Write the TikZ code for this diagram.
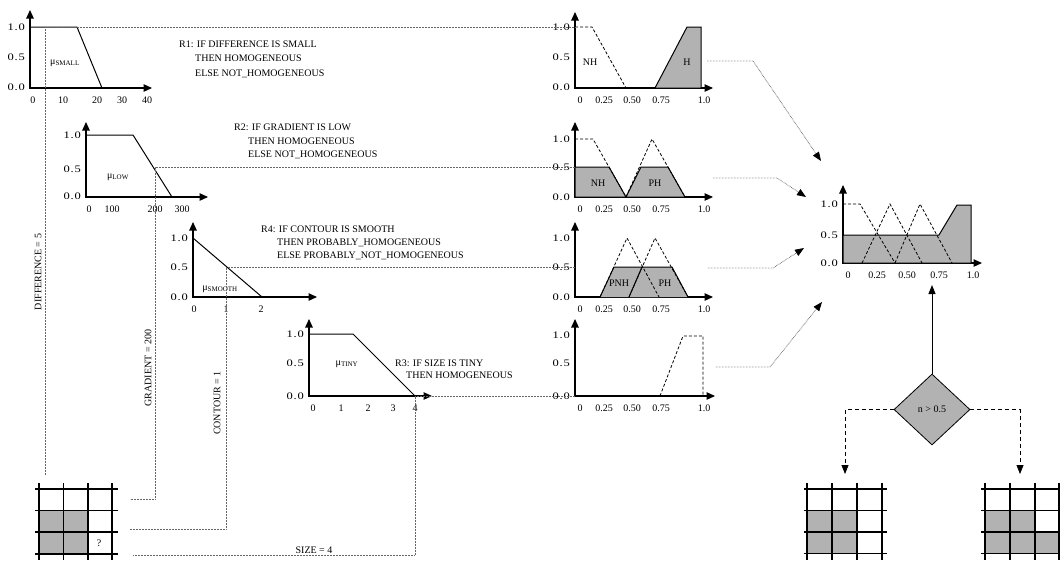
\documentclass[tikz,border=0pt]{standalone}
\usepackage{fontspec}
\setmainfont{Liberation Serif}
\usetikzlibrary{arrows.meta,shapes.geometric}

% axes of one membership plot: x of y-axis, y of x-axis, top of y-axis, end of x-axis
\newcommand{\plotaxes}[4]{\draw[axis] (#1,#3) -- (#1,#2) -- (#4,#2);}
% the three y tick labels 1.0 / 0.5 / 0.0
\newcommand{\ylabels}[4]{%
  \node[ylab] at (#1-5,#2) {1.0};
  \node[ylab] at (#1-5,#3) {0.5};
  \node[ylab] at (#1-5,#4) {0.0};}

\begin{document}
\begin{tikzpicture}[x=1pt,y=-1pt,
  font=\fontsize{10}{12}\selectfont,
  axis/.style={line width=1.1pt,{Triangle[length=8.5pt,width=7.5pt]}-{Triangle[length=8.5pt,width=7.5pt]}},
  mf/.style={line width=1pt,line join=miter},
  mfd/.style={line width=0.8pt,dash pattern=on 3pt off 2pt},
  gfill/.style={fill=black!30},
  ylab/.style={anchor=east,inner sep=0,font=\fontsize{10}{12}\selectfont\addfontfeature{FakeStretch=1.25,LetterSpace=8}},
  xlab/.style={inner sep=0},
  guide/.style={line width=0.7pt,black!60,dash pattern=on 0.7pt off 0.8pt},
  guidearrow/.style={guide,-{Triangle[length=9pt,width=7pt,color=black]}},
  rline/.style={anchor=base west,inner sep=0},
  gridline/.style={line width=1.8pt},
  decision/.style={diamond,draw,line width=0.8pt,fill=black!30,minimum width=76pt,minimum height=71pt,inner sep=0},
  branch/.style={line width=0.8pt,dash pattern=on 4pt off 3pt,-{Triangle[length=9pt,width=7pt]}}]
\useasboundingbox (0,0) rectangle (1060,560);

% ---------- input membership functions ----------
% DIFFERENCE is SMALL
\plotaxes{30}{88}{10}{152}
\ylabels{30}{27}{57}{87}
\foreach \p/\t in {33/0,63/10,97/20,122/30,147/40} \node[xlab] at (\p,100) {\t};
\draw[mf] (30,27) -- (77,27) -- (102,88);
\node at (65,63) {μ\textsubscript{SMALL}};

% GRADIENT is LOW
\plotaxes{86}{197}{122}{208}
\ylabels{86}{135}{169}{196}
\foreach \p/\t in {89/0,112/100,155/200,182/300} \node[xlab] at (\p,209) {\t};
\draw[mf] (86,135) -- (133,135) -- (172,197);
\node at (118,177) {μ\textsubscript{LOW}};

% CONTOUR is SMOOTH
\plotaxes{193}{297}{222}{317}
\ylabels{193}{238}{267}{297}
\foreach \p/\t in {194/0,226/1,261/2} \node[xlab] at (\p,309) {\t};
\draw[mf] (193,238) -- (262,297);
\node at (220,289) {μ\textsubscript{SMOOTH}};

% SIZE is TINY
\plotaxes{309}{396}{319}{432}
\ylabels{309}{334}{363}{396}
\foreach \p/\t in {313/0,341/1,368/2,393/3,415/4} \node[xlab] at (\p,408) {\t};
\draw[mf] (309,334) -- (353,334) -- (415,396);
\node at (347,364) {μ\textsubscript{TINY}};

% ---------- rules ----------
\node[rline] at (179,47.5) {R1: IF DIFFERENCE IS SMALL};
\node[rline] at (195,61.8) {THEN HOMOGENEOUS};
\node[rline] at (195,76) {ELSE NOT\_HOMOGENEOUS};
\node[rline] at (234,130.5) {R2: IF GRADIENT IS LOW};
\node[rline] at (248,144) {THEN HOMOGENEOUS};
\node[rline] at (248,157.5) {ELSE NOT\_HOMOGENEOUS};
\node[rline] at (261,232.5) {R4: IF CONTOUR IS SMOOTH};
\node[rline] at (277,245.5) {THEN PROBABLY\_HOMOGENEOUS};
\node[rline] at (277,258.5) {ELSE PROBABLY\_NOT\_HOMOGENEOUS};
\node[rline] at (395,366) {R3: IF SIZE IS TINY};
\node[rline] at (406,378) {THEN HOMOGENEOUS};

% ---------- rule outputs ----------
\foreach \yy in {100,209,309,408}
  \foreach \p/\t in {580/0,604/0.25,632/0.50,661/0.75,704/1.0} \node[xlab] at (\p,\yy) {\t};

% R1
\plotaxes{575}{88}{12}{713}
\ylabels{575}{27}{57}{87}
\filldraw[gfill,mf] (655,88) -- (687,27) -- (701,27) -- (701,88) -- cycle;
\draw[mfd] (575,27) -- (592,27) -- (626,88);
\node at (590,62) {NH};
\node at (687,62) {H};

% R2
\plotaxes{575}{197}{122}{713}
\ylabels{575}{139}{167}{197}
\filldraw[gfill,mf] (575,197) -- (575,167) -- (609,167) -- (626,197) -- cycle;
\filldraw[gfill,mf] (626,197) -- (641,167) -- (668,167) -- (685,197) -- cycle;
\draw[mfd] (575,139) -- (593,139) -- (626,197);
\draw[mfd] (626,197) -- (652,139) -- (685,197);
\node at (598,183) {NH};
\node at (655,183) {PH};

% R4
\plotaxes{575}{297}{222}{713}
\ylabels{575}{238}{267}{297}
\fill[gfill] (600,297) -- (614,267) -- (643,267) -- (659,297) -- cycle;
\fill[gfill] (629,297) -- (642,267) -- (672,267) -- (688,297) -- cycle;
\draw[mf] (600,297) -- (614,267) -- (672,267) -- (688,297);
\draw[mf] (629,297) -- (642,267);
\draw[mfd] (600,297) -- (627,238) -- (659,297);
\draw[mfd] (629,297) -- (655,238) -- (688,297);
\node at (619,283) {PNH};
\node at (665,283) {PH};

% R3
\plotaxes{575}{396}{319}{715}
\ylabels{575}{335}{363}{396}
\draw[mfd] (660,396) -- (683,336) -- (703,336) -- (703,396);

% ---------- aggregated result ----------
\plotaxes{843}{263}{185}{982}
\ylabels{843}{204}{235}{263}
\foreach \p/\t in {848/0,877/0.25,907/0.50,939/0.75,973/1.0} \node[xlab] at (\p,275) {\t};
\filldraw[gfill,mf] (843,263) -- (843,235) -- (939,235) -- (957,205) -- (971,205) -- (971,263) -- cycle;
\draw[mfd] (843,204) -- (860,204) -- (895,263);
\draw[mfd] (862,263) -- (890,204) -- (922,263);
\draw[mfd] (895,263) -- (920,204) -- (952,263);

% ---------- measured inputs ----------
\draw[guide] (45,27) -- (575,27);
\draw[guide] (45,27) -- (45,475);
\node[rotate=90] at (38,272) {DIFFERENCE = 5};
\draw[guide] (575,167) -- (155,167) -- (155,499) -- (130,499);
\node[rotate=90] at (148,368) {GRADIENT = 200};
\draw[guide] (575,267) -- (226,267) -- (226,529) -- (130,529);
\node[rotate=90] at (217,403) {CONTOUR = 1};
\draw[guide] (575,396) -- (415,396) -- (415,555) -- (133,555);
\node at (314,550) {SIZE = 4};

% ---------- rule outputs to aggregation ----------
\draw[guidearrow] (707,61) -- (753,61) -- (821,161);
\draw[guidearrow] (713,178) -- (777,178) -- (806,197);
\draw[guidearrow] (708,268) -- (773,268) -- (804,248);
\draw[guidearrow] (716,367) -- (770,367) -- (822,302);

% ---------- decision ----------
\node[decision] (dec) at (932,409.5) {n > 0.5};
\coordinate (agg) at (932,285);
\coordinate (nohom) at (845,474);
\coordinate (hom) at (1020,474);
\draw[line width=1pt,-{Triangle[length=9pt,width=7pt]}] (dec.north) -- (agg);
\draw[branch] (dec.west) -| (nohom);
\draw[branch] (dec.east) -| (hom);

% ---------- pixel neighbourhoods ----------
% input
\fill[gfill] (39,510.5) rectangle (88,554);
\foreach \yy in {489,510.5,532,554} \draw[gridline] (35,\yy) -- (118,\yy);
\foreach \xx in {39,63.5,88,112} \draw[gridline] (\xx,483) -- (\xx,560);
\node at (99,543) {?};
% result: not homogeneous
\fill[gfill] (807,510.5) rectangle (857,553.5);
\foreach \yy in {489,510.5,532,553.5} \draw[gridline] (804,\yy) -- (887,\yy);
\foreach \xx in {807,832,857,882} \draw[gridline] (\xx,483) -- (\xx,560);
% result: homogeneous
\fill[gfill] (985,510.5) rectangle (1035,553.5);
\fill[gfill] (1035,532) rectangle (1059,553.5);
\foreach \yy in {489,510.5,532,553.5} \draw[gridline] (981,\yy) -- (1060,\yy);
\foreach \xx in {985,1010,1035,1059} \draw[gridline] (\xx,483) -- (\xx,560);
\end{tikzpicture}
\end{document}
